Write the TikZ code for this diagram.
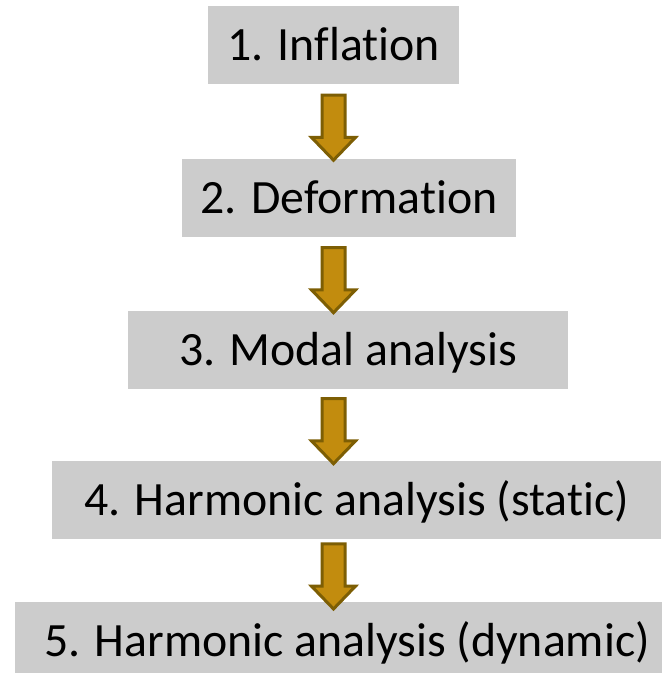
\documentclass[tikz,border=0pt]{standalone}
\usepackage{fontspec}
\setmainfont{Carlito}[RawFeature=-liga]
\usetikzlibrary{shapes.arrows}
\definecolor{boxgray}{RGB}{204,204,204}
\definecolor{arrowgold}{RGB}{194,140,14}
\definecolor{arrowbrown}{RGB}{125,94,4}

\begin{document}
\begin{tikzpicture}[x=0.5pt,y=0.5pt,
    stepbox/.style={fill=boxgray,inner sep=0pt,minimum height=39pt,
        text height=15.3pt,text depth=0pt,font=\fontsize{23.9}{28}\selectfont},
    flowarrow/.style={single arrow,rotate=-90,fill=arrowgold,draw=arrowbrown,
        line width=1.5pt,inner xsep=0pt,inner ysep=5pt,minimum width=0pt,
        minimum height=32.5pt,single arrow head extend=5.25pt,
        single arrow head indent=0pt,single arrow tip angle=88}]
    % page
    \useasboundingbox (0,0) rectangle (662,673);
    \clip (0,0) rectangle (662,673);
    % the five steps
    \node[stepbox,minimum width=125.5pt] (inflation) at (333.5,627.5) {1. Inflation};
    \node[stepbox,minimum width=167pt]   (deformation) at (349,475) {2. Deformation};
    \node[stepbox,minimum width=220pt]   (modal) at (348,322.5) {3. Modal analysis};
    \node[stepbox,minimum width=304.5pt] (static) at (356.5,173) {4. Harmonic analysis (static)};
    \node[stepbox,minimum width=332pt]   (dynamic) at (347,32) {5. Harmonic analysis (dynamic)};
    % arrows between the steps
    \path (inflation.south) -- (inflation.south |- deformation.north) node[midway,flowarrow] (arr1) {};
    \path (inflation.south |- deformation.south) -- (inflation.south |- modal.north) node[midway,flowarrow] (arr2) {};
    \path (inflation.south |- modal.south) -- (inflation.south |- static.north) node[midway,flowarrow] (arr3) {};
    \path (inflation.south |- static.south) -- (inflation.south |- dynamic.north) node[midway,flowarrow] (arr4) {};
\end{tikzpicture}
\end{document}
